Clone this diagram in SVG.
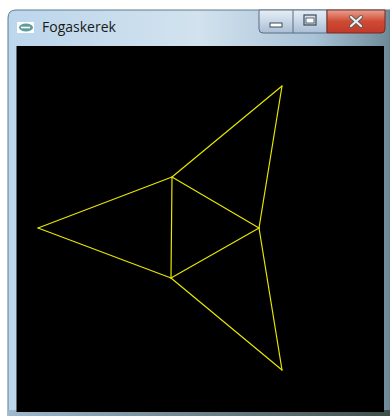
<svg xmlns="http://www.w3.org/2000/svg" width="390" height="416" viewBox="0 0 390 416">
<defs>
<style>
.edge{stroke:#e6e600;stroke-width:1.2;fill:none;stroke-linecap:round}
.title{font-family:"Segoe UI","Open Sans","Liberation Sans",sans-serif;font-size:14px;fill:#1a1a1a}
</style>
<linearGradient id="frame" x1="0" y1="0" x2="1" y2="0">
<stop offset="0" stop-color="#bcd6ec"/>
<stop offset="0.5" stop-color="#d2e2ee"/>
<stop offset="0.8" stop-color="#a9c3d8"/>
<stop offset="1" stop-color="#6f8a96"/>
</linearGradient>
<linearGradient id="btn" x1="0" y1="0" x2="0" y2="1">
<stop offset="0" stop-color="#e6eef6"/>
<stop offset="0.5" stop-color="#c9d7e6"/>
<stop offset="1" stop-color="#aabed4"/>
</linearGradient>
<linearGradient id="close" x1="0" y1="0" x2="0" y2="1">
<stop offset="0" stop-color="#e8a090"/>
<stop offset="0.5" stop-color="#cf4a33"/>
<stop offset="1" stop-color="#c0392b"/>
</linearGradient>
<linearGradient id="bottom" x1="0" y1="0" x2="1" y2="0">
<stop offset="0" stop-color="#9fb9cf"/>
<stop offset="1" stop-color="#3d4f4a"/>
</linearGradient>
</defs>
<rect x="0" y="0" width="390" height="416" fill="#ffffff"/>
<g id="window">
<path d="M8 416 V18 Q8 10 16 10 H390 V416 Z" fill="url(#frame)" stroke="#5f7a8e" stroke-width="1"/>
<rect x="8" y="410" width="382" height="6" fill="url(#bottom)"/>
<g id="buttons">
<path d="M259 10 H327 V33 H263 Q259 33 259 29 Z" fill="url(#btn)" stroke="#5c6f80" stroke-width="1"/>
<line x1="293" y1="10" x2="293" y2="33" stroke="#5c6f80" stroke-width="1"/>
<path d="M327 10 H385 V29 Q385 33 381 33 H327 Z" fill="url(#close)" stroke="#7a2a20" stroke-width="1"/>
<rect x="270" y="23" width="12" height="4" fill="#ffffff" stroke="#3c4a58" stroke-width="1"/>
<rect x="304" y="15" width="12" height="10" fill="none" stroke="#3c4a58" stroke-width="1.2"/>
<rect x="306" y="18" width="8" height="5" fill="#ffffff" stroke="#3c4a58" stroke-width="0.8"/>
<path d="M351 17 L361 26 M361 17 L351 26" stroke="#5a5a5a" stroke-width="4" stroke-linecap="round"/>
<path d="M351 17 L361 26 M361 17 L351 26" stroke="#eeeeee" stroke-width="2.2" stroke-linecap="round"/>
</g>
<g id="icon">
<rect x="17" y="22" width="17" height="11" fill="#ffffff"/>
<ellipse cx="26" cy="27.5" rx="7" ry="4" fill="#5e9c9c"/>
<path d="M21 27.5 H30" stroke="#ffffff" stroke-width="1.6"/>
</g>
<text class="title" x="42" y="32">Fogaskerek</text>
<rect x="16.5" y="46" width="367.5" height="366" fill="#000000"/>
</g>
<g id="connectors">
<line class="edge" x1="172" y1="177" x2="259" y2="228"/>
<line class="edge" x1="259" y1="228" x2="171" y2="278"/>
<line class="edge" x1="171" y1="278" x2="172" y2="177"/>
<line class="edge" x1="38" y1="228" x2="172" y2="177"/>
<line class="edge" x1="38" y1="228" x2="171" y2="278"/>
<line class="edge" x1="282" y1="86" x2="172" y2="177"/>
<line class="edge" x1="282" y1="86" x2="259" y2="228"/>
<line class="edge" x1="282" y1="370" x2="171" y2="278"/>
<line class="edge" x1="282" y1="370" x2="259" y2="228"/>
</g>
</svg>
